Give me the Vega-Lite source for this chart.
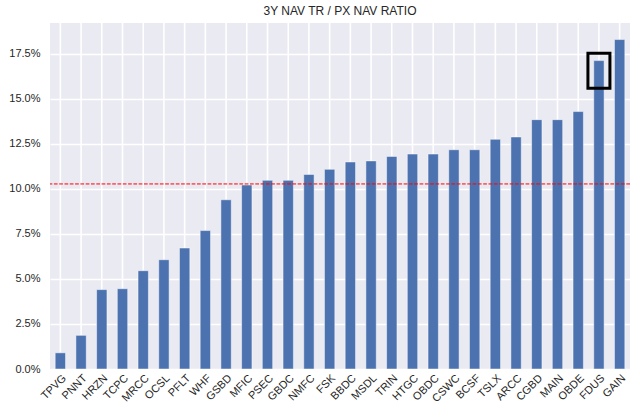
{
  "$schema": "https://vega.github.io/schema/vega-lite/v6.json",
  "autosize": "none",
  "width": 580,
  "height": 346,
  "padding": {"left": 50, "top": 23, "right": 10, "bottom": 49},
  "background": "white",
  "title": {"text": "3Y NAV TR / PX NAV RATIO", "font": "Liberation Sans", "fontSize": 12, "fontWeight": "normal", "color": "#262626", "offset": 4, "anchor": "middle"},
  "datasets": {
    "bdc": [
      {"ticker": "TPVG", "value": 0.0090},
      {"ticker": "PNNT", "value": 0.0187},
      {"ticker": "HRZN", "value": 0.0441},
      {"ticker": "TCPC", "value": 0.0446},
      {"ticker": "MRCC", "value": 0.0546},
      {"ticker": "OCSL", "value": 0.0607},
      {"ticker": "PFLT", "value": 0.0672},
      {"ticker": "WHF", "value": 0.0769},
      {"ticker": "GSBD", "value": 0.0940},
      {"ticker": "MFIC", "value": 0.1022},
      {"ticker": "PSEC", "value": 0.1048},
      {"ticker": "GBDC", "value": 0.1048},
      {"ticker": "NMFC", "value": 0.1081},
      {"ticker": "FSK", "value": 0.1109},
      {"ticker": "BBDC", "value": 0.1150},
      {"ticker": "MSDL", "value": 0.1156},
      {"ticker": "TRIN", "value": 0.1181},
      {"ticker": "HTGC", "value": 0.1194},
      {"ticker": "OBDC", "value": 0.1194},
      {"ticker": "CSWC", "value": 0.1218},
      {"ticker": "BCSF", "value": 0.1218},
      {"ticker": "TSLX", "value": 0.1276},
      {"ticker": "ARCC", "value": 0.1289},
      {"ticker": "CGBD", "value": 0.1385},
      {"ticker": "MAIN", "value": 0.1385},
      {"ticker": "OBDE", "value": 0.1430},
      {"ticker": "FDUS", "value": 0.1713},
      {"ticker": "GAIN", "value": 0.1830}
    ]
  },
  "config": {
    "view": {"fill": "#EAEAF2", "stroke": null},
    "axis": {"labelFont": "Liberation Sans", "labelFontSize": 11, "labelColor": "#262626", "domain": false, "ticks": false, "gridColor": "white", "gridWidth": 1, "gridOpacity": 1, "title": null}
  },
  "encoding": {
    "x": {"field": "ticker", "type": "nominal", "sort": null,
          "scale": {"paddingInner": 0.5, "paddingOuter": 0.25},
          "axis": {"labelAngle": -45, "labelAlign": "right", "labelBaseline": "top", "labelPadding": 3, "grid": false}}
  },
  "layer": [
    {
      "data": {"name": "bdc"},
      "mark": {"type": "rule", "color": "white", "strokeWidth": 1.6},
      "encoding": {}
    },
    {
      "data": {"name": "bdc"},
      "mark": {"type": "bar", "color": "#4C72B0", "stroke": "white", "strokeWidth": 0.8, "strokeOpacity": 0.6},
      "encoding": {
        "y": {"field": "value", "type": "quantitative",
              "scale": {"domain": [0, 0.1922], "nice": false, "zero": true},
              "axis": {"values": [0, 0.025, 0.05, 0.075, 0.1, 0.125, 0.15, 0.175], "format": ".1%", "labelPadding": 10, "grid": true, "gridWidth": 1.3, "zindex": 0}}
      }
    },
    {
      "data": {"values": [{"level": 0.1028}]},
      "mark": {"type": "rule", "color": "red", "strokeWidth": 1, "strokeDash": [3.7, 1.6]},
      "encoding": {"y": {"field": "level", "type": "quantitative"}, "x": null}
    },
    {
      "data": {"values": [{"ticker": "FDUS", "lo": 0.1559, "hi": 0.1754}]},
      "mark": {"type": "bar", "width": 22, "fill": null, "fillOpacity": 0, "stroke": "black", "strokeWidth": 3},
      "encoding": {
        "y": {"field": "lo", "type": "quantitative"},
        "y2": {"field": "hi"}
      }
    }
  ]
}
